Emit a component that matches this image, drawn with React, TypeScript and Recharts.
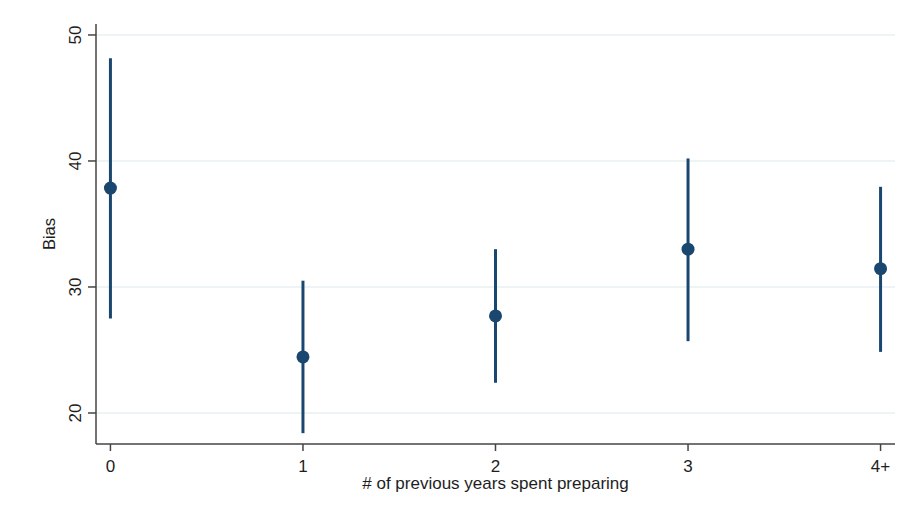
import React from 'react'
import {
  ScatterChart,
  Scatter,
  XAxis,
  YAxis,
  CartesianGrid,
  ErrorBar
} from 'recharts'

// years spent preparing, point estimate and 95% interval of bias
const categories = ['0', '1', '2', '3', '4+']
const positions = [0, 1, 2, 3, 4]
const means = [37.85, 24.45, 27.7, 33.0, 31.45]
const lower = [27.5, 18.4, 22.4, 25.7, 24.85]
const upper = [48.15, 30.5, 33.0, 40.2, 37.95]
const yTicks = [20, 30, 40, 50]

const data = positions.map((x, i) => ({
  x,
  y: means[i],
  err: [means[i] - lower[i], upper[i] - means[i]]
}))

const NAVY = '#1a476f'
const FONT = '"Liberation Sans", Arial, sans-serif'
const TEXT = '#1e1e1e'

const YTick = ({ y, payload }: any) => (
  <text
    x={81}
    y={y}
    transform={`rotate(-90, 81, ${y})`}
    textAnchor="middle"
    fontSize={17}
    fontFamily={FONT}
    fill={TEXT}
  >
    {payload.value}
  </text>
)

const XTick = ({ x, payload }: any) => (
  <text
    x={x}
    y={471.5}
    textAnchor="middle"
    fontSize={17}
    fontFamily={FONT}
    fill={TEXT}
  >
    {categories[payload.value]}
  </text>
)

const XTitle = ({ viewBox }: any) => (
  <text
    x={viewBox.x + viewBox.width / 2}
    y={489}
    textAnchor="middle"
    fontSize={17}
    fontFamily={FONT}
    fill={TEXT}
  >
    # of previous years spent preparing
  </text>
)

const YTitle = ({ viewBox }: any) => {
  const cy = viewBox.y + viewBox.height / 2
  return (
    <text
      x={55}
      y={cy}
      transform={`rotate(-90, 55, ${cy})`}
      textAnchor="middle"
      fontSize={16.5}
      fontFamily={FONT}
      fill={TEXT}
    >
      Bias
    </text>
  )
}

const Dot = ({ cx, cy }: any) => <circle cx={cx} cy={cy} r={6.5} fill={NAVY} />

export default function App() {
  return (
    <div style={{ position: 'absolute', left: 0, top: 0, background: '#fff' }}>
      <ScatterChart
        width={906}
        height={508}
        margin={{ top: 24, right: 11, bottom: 14, left: 0 }}
      >
        <CartesianGrid
          vertical={false}
          horizontalValues={yTicks}
          stroke="#e8f0f2"
          strokeWidth={1.5}
        />
        <XAxis
          type="number"
          dataKey="x"
          domain={[-0.075, 4.075]}
          ticks={positions}
          allowDataOverflow
          height={50}
          stroke="#444"
          strokeWidth={1.5}
          tickSize={7}
          tick={<XTick />}
          label={<XTitle />}
        />
        <YAxis
          type="number"
          dataKey="y"
          domain={[17.54, 50.87]}
          ticks={yTicks}
          allowDataOverflow
          width={96}
          stroke="#444"
          strokeWidth={1.5}
          tickSize={8}
          tick={<YTick />}
          label={<YTitle />}
        />
        <Scatter data={data} shape={<Dot />} isAnimationActive={false}>
          <ErrorBar
            dataKey="err"
            direction="y"
            width={0}
            stroke={NAVY}
            strokeWidth={3}
            isAnimationActive={false}
          />
        </Scatter>
      </ScatterChart>
    </div>
  )
}
